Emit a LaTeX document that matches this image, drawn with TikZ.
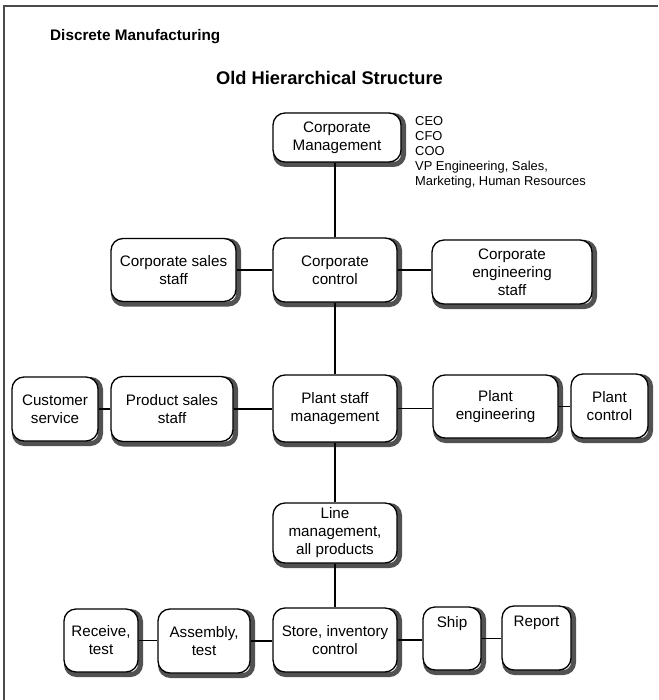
\documentclass[tikz,border=0pt]{standalone}
\usepackage{fontspec}
\setmainfont{Liberation Sans}
\begin{document}
\begin{tikzpicture}[x=1pt,y=-1pt,
  orgbox/.style={draw, line width=1.3pt, rounded corners=12pt, fill=white,
    align=center, inner sep=0pt, font=\fontsize{15.2}{18}\selectfont},
  shadowstroke/.style={draw=black!68, line width=5pt, rounded corners=10pt},
  connector/.style={line width=1.3pt},
  pageframe/.style={line width=1.4pt, draw=black!70},
  textonly/.style={inner sep=0pt}]
\useasboundingbox (0,0) rectangle (658,700);

% page frame
\coordinate (ftl) at (4,6);
\coordinate (ftr) at (658,6);
\coordinate (fbl) at (4,700);
\draw[pageframe] (ftr) -- (ftl) -- (fbl);

% offset shadows: a broad stroke half a shadow width off each box outline,
% so only its lower right part shows beside the box drawn on top
\draw[shadowstroke] (275.5,115.5) rectangle (403.5,164.5);
\draw[shadowstroke] (275.5,240.5) rectangle (399.5,304.5);
\draw[shadowstroke] (113.5,241) rectangle (238.5,304);
\draw[shadowstroke] (434.5,242.5) rectangle (594.5,306.5);
\draw[shadowstroke] (275.5,377.5) rectangle (399.5,444.5);
\draw[shadowstroke] (113.5,379) rectangle (235.5,444);
\draw[shadowstroke] (14.5,379.5) rectangle (100.5,443.5);
\draw[shadowstroke] (435.5,377.5) rectangle (560.5,440.5);
\draw[shadowstroke] (573.5,376.5) rectangle (650.5,440.5);
\draw[shadowstroke] (275.5,505.5) rectangle (399.5,565.5);
\draw[shadowstroke] (275.5,610.5) rectangle (399.5,674.5);
\draw[shadowstroke] (160.5,611.5) rectangle (252.5,675.5);
\draw[shadowstroke] (66.5,611.5) rectangle (140.5,674.5);
\draw[shadowstroke] (425.5,609.5) rectangle (483.5,672.5);
\draw[shadowstroke] (504.5,608.5) rectangle (573.5,672.5);

% headings
\node[textonly, font=\bfseries\fontsize{15.3}{18}\selectfont, anchor=west] (sector) at (50,37) {Discrete Manufacturing};
\node[textonly, font=\bfseries\fontsize{18.3}{22}\selectfont] (title) at (329.5,78) {Old Hierarchical Structure};

% corporate level
\node[orgbox, minimum width=128, minimum height=49] (cm) at (337,137.5) {Corporate\\Management};
\node[textonly, anchor=north west, align=left, font=\fontsize{12.9}{15}\selectfont] (officers) at (415,116)
  {CEO\\CFO\\COO\\VP Engineering, Sales,\\Marketing, Human Resources};
\node[orgbox, minimum width=124, minimum height=64] (cc) at (335,270) {Corporate\\control};
\node[orgbox, minimum width=125, minimum height=63] (css) at (173.5,270) {Corporate sales\\staff};
\node[orgbox, minimum width=160, minimum height=64] (ces) at (512,272) {Corporate\\engineering\\staff};

% plant level
\node[orgbox, minimum width=124, minimum height=67] (psm) at (335,408.5) {Plant staff\\management};
\node[orgbox, minimum width=122, minimum height=65] (pss) at (172,409) {Product sales\\staff};
\node[orgbox, minimum width=86, minimum height=64] (cs) at (55,409) {Customer\\service};
\node[orgbox, minimum width=125, minimum height=63] (pe) at (495.5,406.5) {Plant\\engineering};
\node[orgbox, minimum width=77, minimum height=64] (pc) at (609.5,406) {Plant\\control};

% line level
\node[orgbox, minimum width=124, minimum height=60] (lm) at (335,533) {Line\\management,\\all products};

% shop floor
\node[orgbox, minimum width=124, minimum height=64] (sic) at (335,640) {Store, inventory\\control};
\node[orgbox, minimum width=92, minimum height=64] (at) at (204,641) {Assembly,\\test};
\node[orgbox, minimum width=74, minimum height=63] (rt) at (101,640.5) {Receive,\\test};
\node[orgbox, minimum width=58, minimum height=63] (ship) at (452,638.5) {};
\node[orgbox, minimum width=69, minimum height=64] (report) at (536.5,638) {};
\node[textonly, font=\fontsize{15.2}{18}\selectfont, anchor=north] (shiptext) at ([yshift=-10pt]ship.north) {Ship};
\node[textonly, font=\fontsize{15.2}{18}\selectfont, anchor=north] (reporttext) at ([yshift=-10pt]report.north) {Report};

% connectors
\draw[connector] (cc.north) -- (cc.north |- cm.south);
\draw[connector] (css.east) -- (css.east -| cc.west);
\draw[connector] (cc.east) -- (cc.east -| ces.west);
\draw[connector] (cc.south) -- (psm.north);
\draw[connector] (cs.east) -- (cs.east -| pss.west);
\draw[connector] (pss.east) -- (pss.east -| psm.west);
\draw[connector] (psm.east) -- (psm.east -| pe.west);
\draw[connector] (pe.east) -- (pe.east -| pc.west);
\draw[connector] (psm.south) -- (lm.north);
\draw[connector] (lm.south) -- (sic.north);
\draw[connector] (rt.east) -- (rt.east -| at.west);
\draw[connector] (at.east) -- (at.east -| sic.west);
\draw[connector] (sic.east) -- (sic.east -| ship.west);
\draw[connector] (ship.east) -- (ship.east -| report.west);
\end{tikzpicture}
\end{document}
